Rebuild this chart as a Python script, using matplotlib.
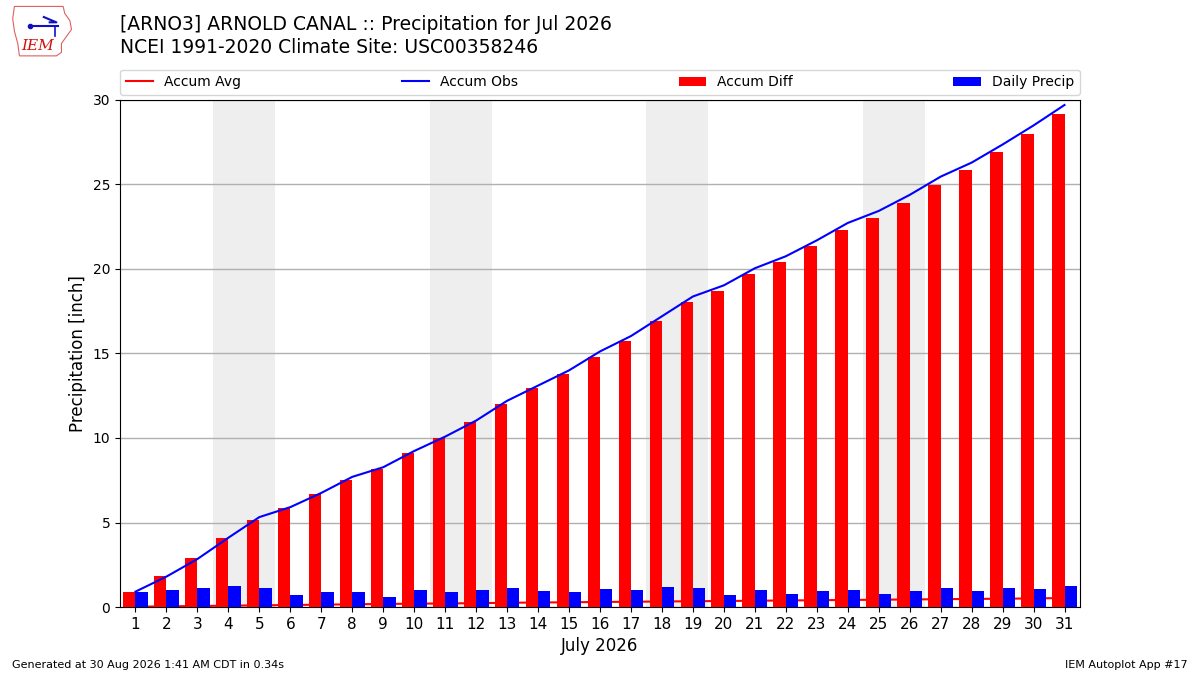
import matplotlib
matplotlib.use("Agg")
import matplotlib.pyplot as plt
from matplotlib.patches import Polygon
import numpy as np

days = list(range(1, 32))
day_labels = [str(d) for d in days]

accum_obs = [0.91, 1.80, 2.84, 4.10, 5.32, 5.91, 6.75, 7.70, 8.27, 9.23,
             10.08, 11.03, 12.20, 13.10, 14.00, 15.12, 16.03, 17.20, 18.37, 19.03,
             20.04, 20.75, 21.69, 22.72, 23.43, 24.38, 25.46, 26.29, 27.36, 28.49, 29.70]
accum_avg = [0.02, 0.04, 0.06, 0.08, 0.10, 0.12, 0.14, 0.16, 0.18, 0.20,
             0.21, 0.23, 0.25, 0.27, 0.28, 0.30, 0.31, 0.33, 0.34, 0.36,
             0.37, 0.39, 0.40, 0.42, 0.43, 0.45, 0.46, 0.48, 0.49, 0.51, 0.53]
accum_diff = [0.87, 1.83, 2.90, 4.09, 5.16, 5.87, 6.71, 7.54, 8.15, 9.09,
              10.00, 10.93, 12.00, 12.96, 13.79, 14.80, 15.75, 16.94, 18.02, 18.67,
              19.68, 20.40, 21.35, 22.30, 23.02, 23.91, 24.98, 25.87, 26.94, 27.96, 29.15]
daily_precip = [0.87, 0.99, 1.11, 1.23, 1.11, 0.69, 0.87, 0.87, 0.58, 0.99,
                0.87, 0.99, 1.11, 0.93, 0.87, 1.05, 0.99, 1.17, 1.11, 0.69,
                0.99, 0.75, 0.93, 0.99, 0.75, 0.93, 1.11, 0.93, 1.11, 1.05, 1.23]
weekends = [(4, 5), (11, 12), (18, 19), (25, 26)]

title1 = "[ARNO3] ARNOLD CANAL :: Precipitation for Jul 2026"
title2 = "NCEI 1991-2020 Climate Site: USC00358246"
footer_left = "Generated at 30 Aug 2026 1:41 AM CDT in 0.34s"
footer_right = "IEM Autoplot App #17"

fig = plt.figure(figsize=(12, 6.75), dpi=100)
ax = fig.add_axes([0.1, 0.1007, 0.8, 0.7513])

for a, b in weekends:
    ax.axvspan(a - 0.5, b + 0.5, color="#EEEEEE", zorder=0, lw=0)

ax.plot(days, accum_avg, color="r", lw=1.5, label="Accum Avg", zorder=2)
ax.plot(days, accum_obs, color="b", lw=1.5, label="Accum Obs", zorder=5)
ax.bar(days, accum_diff, width=-0.4, align="edge", color="r", label="Accum Diff", zorder=3)
ax.bar(days, daily_precip, width=0.4, align="edge", color="b", label="Daily Precip", zorder=3)

ax.set_xlim(0.5, 31.5)
ax.set_ylim(0, 30)
ax.set_xticks(days)
ax.set_xticklabels(day_labels, fontsize=11)
ax.set_yticks([0, 5, 10, 15, 20, 25, 30])
ax.tick_params(axis="y", labelsize=10)
ax.yaxis.grid(True, color="#b0b0b0", lw=1)
ax.set_axisbelow(True)
ax.set_ylabel("Precipitation [inch]", fontsize=12)
ax.set_xlabel("July 2026", fontsize=12)

ax.legend(bbox_to_anchor=(0, 1.01, 1, 0.06), loc="lower left", ncol=4,
          mode="expand", borderaxespad=0, fontsize=10)

fig.text(0.1, 0.963, title1, fontsize=13.5, va="center", ha="left")
fig.text(0.1, 0.929, title2, fontsize=13.5, va="center", ha="left")
fig.text(0.01, 0.015, footer_left, fontsize=8, ha="left", va="center")
fig.text(0.99, 0.015, footer_right, fontsize=8, ha="right", va="center")

# simple IEM logo approximation
lax = fig.add_axes([0.005, 0.912, 0.063, 0.085])
lax.set_xlim(0, 90)
lax.set_ylim(0, 65)
lax.axis("off")
iowa = [(10, 60), (68, 60), (70, 52), (76, 44), (78, 34), (72, 26), (66, 18),
        (66, 8), (60, 4), (16, 4), (14, 18), (10, 32), (8, 46)]
lax.add_patch(Polygon(iowa, closed=True, fill=False, ec="#e06060", lw=0.8))
lax.text(38, 15, "IEM", color="#d01010", fontsize=11, family="DejaVu Serif",
         style="italic", ha="center", va="center")
lax.plot([28, 62], [38, 38], color="#1010c0", lw=1.5)
lax.plot([28], [38], "o", color="#1010c0", ms=3)
lax.plot([45, 60, 52], [48, 42, 42], color="#1010c0", lw=1.5)
lax.plot([58, 58], [38, 26], color="#1010c0", lw=1.2)

fig.savefig("out.png", dpi=100)
